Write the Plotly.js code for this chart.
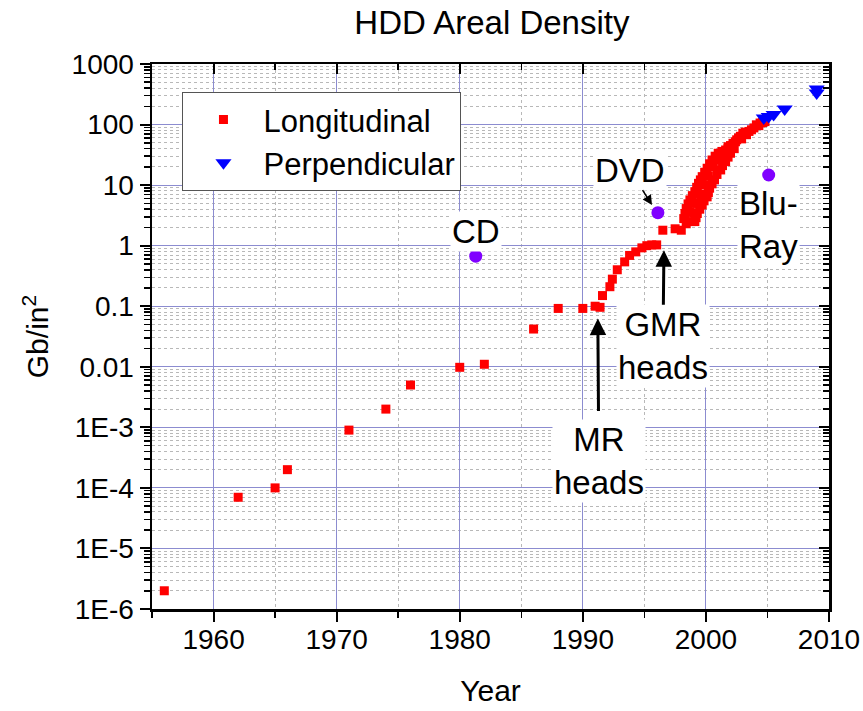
<!DOCTYPE html>
<html>
<head>
<meta charset="utf-8">
<script src="https://cdn.plot.ly/plotly-3.0.1.min.js"></script>
<style>
html,body{margin:0;padding:0;background:#fff;}
#chart{width:863px;height:711px;}
</style>
</head>
<body>
<div id="chart"></div>
<script>
// ---- data ----
var longYear = [1956,1962,1965,1966,1971,1974,1976,1980,1982,1986,1988,1990,1991,1991.4,1991.6,1992.2,1992.4,1992.8,1993.4,1993.8,1994.3,1994.8,1995.2,1995.6,1996.0,1996.5,1997.5,1998.0,
  1998.2,1998.4,1998.7,1999.1,1999.4,1999.7,2000.1,2000.5,2001.0,
  1998.4,1998.7,1999.0,1999.3,
  1999.1,1999.3,1999.7,2000.1,2000.3,2000.7,2001.2,2001.6,2002.0,
  2001.3,2001.8,2002.2,2002.5,2002.8,2003.0,2003.5,2003.9,2004.1,2004.4,2004.8,
  1998.3,1998.55,1998.9,1999.25,1999.55,1999.9,2000.3,2000.75,
  1999.2,1999.5,1999.85,2000.2,2000.5,2000.9,2001.35,2001.8,2002.3,
  2001.6,2002.0,2002.4,2002.65,2002.9,2003.2,2003.3,2003.7,2004.3,2004.6,
  1998.8,1999.0,1999.3,1999.6,1999.9,2000.2,2000.6,2001.0,2001.4,2001.8];
var longValue = [2e-6,7e-5,1e-4,2e-4,9e-4,2e-3,5e-3,0.0098,0.011,0.042,0.092,0.092,0.1,0.096,0.15,0.21,0.28,0.40,0.54,0.69,0.79,0.92,1.0,1.03,1.03,1.8,1.9,1.8,
  2.8,4.1,5.7,7.8,10.7,13.8,19,26,33.6,
  2.3,3.6,5.0,7.3,
  2.5,3.4,4.7,6.4,8.9,12.2,17.8,24.4,33.6,
  36,43,49,56,64,72,77,88,99,106,112,
  3.4,4.9,6.7,9.2,12.2,16.3,22.5,30,
  2.9,4.0,5.5,7.5,10.5,15,21,29,40,
  38,45,52,60,58,75,68,82,96,108,
  2.5,3.5,5,7,10,14,20,26,32,40];
var perpYear = [2004.7,2005.1,2005.5,2006.4,2009.0,2009.0];
var perpValue = [128,136,146,181,333,388];
var opticalName = ['CD','DVD','Blu-<br>Ray'];
var opticalYear = [1981.3,1996.1,2005.1];
var opticalValue = [0.67,3.5,14.7];
var yTickVals = [1e-6,1e-5,1e-4,1e-3,0.01,0.1,1,10,100,1000];
var yTickText = ['1E-6','1E-5','1E-4','1E-3','0.01','0.1','1','10','100','1000'];
var xTickVals = [1960,1970,1980,1990,2000,2010];
var headLabels = ['MR<br>heads','GMR<br>heads'];

var FONT = 'Liberation Sans, Arial, sans-serif';

var traces = [
  {x: longYear, y: longValue, type:'scatter', mode:'markers', name:'Longitudinal',
   marker:{symbol:'square', size:9, color:'#ff0000'}},
  {x: perpYear, y: perpValue, type:'scatter', mode:'markers', name:'Perpendicular',
   marker:{symbol:'triangle-down', size:14, color:'#0000ff'}},
  {x: opticalYear, y: opticalValue, type:'scatter', mode:'markers', name:'Optical', showlegend:false,
   marker:{symbol:'circle', size:13, color:'#8000ff'}},
  {x: [], y: [], xaxis:'x2', yaxis:'y2', type:'scatter', mode:'markers', showlegend:false, hoverinfo:'skip'}
];

var annFont = {family: FONT, size: 33, color:'#000'};
var annotations = [
  // optical labels
  {x: opticalYear[0], y: 0.239, xref:'x', yref:'y', text: opticalName[0], showarrow:false, font: annFont, bgcolor:'#fff'},
  {x: 2005.05, y: 0.338, xref:'x', yref:'y', text: opticalName[2], showarrow:false, font: annFont, bgcolor:'#fff'},
  // labels with arrows (arrow head at x,y; text offset by ax,ay pixels)
  {x: 1995.62, y: 0.670, xref:'x', yref:'y', text: opticalName[1], font: annFont, bgcolor:'#fff',
   showarrow:true, arrowhead:2, arrowsize:1.3, arrowwidth:1.5, arrowcolor:'#000', ax:-22, ay:-35, standoff:0, startstandoff:0},
  {x: 1991.22, y: -1.204, xref:'x', yref:'y', text: headLabels[0], font: annFont, bgcolor:'#fff',
   showarrow:true, arrowhead:2, arrowsize:1.1, arrowwidth:3, arrowcolor:'#000', ax:1, ay:142, standoff:0, startstandoff:8},
  {x: 1996.59, y: -0.076, xref:'x', yref:'y', text: headLabels[1], font: annFont, bgcolor:'#fff',
   showarrow:true, arrowhead:2, arrowsize:1.1, arrowwidth:3, arrowcolor:'#000', ax:-1, ay:96, standoff:0, startstandoff:0}
];

var tickFont = {family: FONT, size: 28, color:'#000'};
var layout = {
  width: 863, height: 711,
  margin: {l:152, r:34, t:64, b:102, pad:0},
  paper_bgcolor:'#fff', plot_bgcolor:'#fff',
  showlegend: true,
  title: {text:'HDD Areal Density', font:{family: FONT, size: 33, color:'#000'}, x:0.57, xanchor:'center', y:0.985, yanchor:'top'},
  xaxis: {
    type:'linear', range:[1955, 2010], tickmode:'array', tickvals: xTickVals,
    ticks:'outside', ticklen:10, tickwidth:2, tickcolor:'#000',
    showline:true, linecolor:'#000', linewidth:2.5, mirror:true,
    showgrid:true, gridcolor:'#8c8cd0', gridwidth:1, zeroline:false,
    tickfont: tickFont, ticklabelstandoff: -6,
    minor:{dtick:5, tick0:1955, ticks:'outside', ticklen:6, tickwidth:1.5, tickcolor:'#000', showgrid:true, gridcolor:'#b8b8b8', griddash:'dot', gridwidth:1},
    title:{text:'Year', font:{family: FONT, size: 30, color:'#000'}, standoff: 26}
  },
  yaxis: {
    type:'log', range:[-6, 3], tickmode:'array', tickvals: yTickVals, ticktext: yTickText,
    ticks:'outside', ticklen:10, tickwidth:2, tickcolor:'#000',
    showline:true, linecolor:'#000', linewidth:2.5, mirror:true,
    showgrid:true, gridcolor:'#8c8cd0', gridwidth:1, zeroline:false,
    tickfont: tickFont,
    minor:{dtick:'D1', ticks:'outside', ticklen:6, tickwidth:1.5, tickcolor:'#000', showgrid:true, gridcolor:'#b8b8b8', griddash:'dot', gridwidth:1},
    title:{text:'Gb/in<sup>2</sup>', font:{family: FONT, size: 30, color:'#000'}, standoff: 14}
  },
  xaxis2: {
    overlaying:'x', side:'top', anchor:'y', range:[1955, 2010], tickmode:'array', tickvals: xTickVals,
    ticks:'inside', ticklen:10, tickwidth:2, tickcolor:'#000', showticklabels:false,
    showgrid:false, showline:false, zeroline:false,
    minor:{dtick:5, tick0:1955, ticks:'inside', ticklen:6, tickwidth:1.5, tickcolor:'#000', showgrid:false}
  },
  yaxis2: {
    overlaying:'y', side:'right', anchor:'x', type:'log', range:[-6, 3], tickmode:'array', tickvals: yTickVals,
    ticks:'inside', ticklen:10, tickwidth:2, tickcolor:'#000', showticklabels:false,
    showgrid:false, showline:false, zeroline:false,
    minor:{dtick:'D1', ticks:'inside', ticklen:6, tickwidth:1.5, tickcolor:'#000', showgrid:false}
  },
  legend: {
    x:0.045, y:0.949, xanchor:'left', yanchor:'top',
    bgcolor:'#fff', bordercolor:'#555', borderwidth:1,
    font:{family: FONT, size: 31, color:'#000'},
    itemwidth: 70
  },
  annotations: annotations
};

Plotly.newPlot('chart', traces, layout, {displayModeBar:false, staticPlot:true});
</script>
</body>
</html>
